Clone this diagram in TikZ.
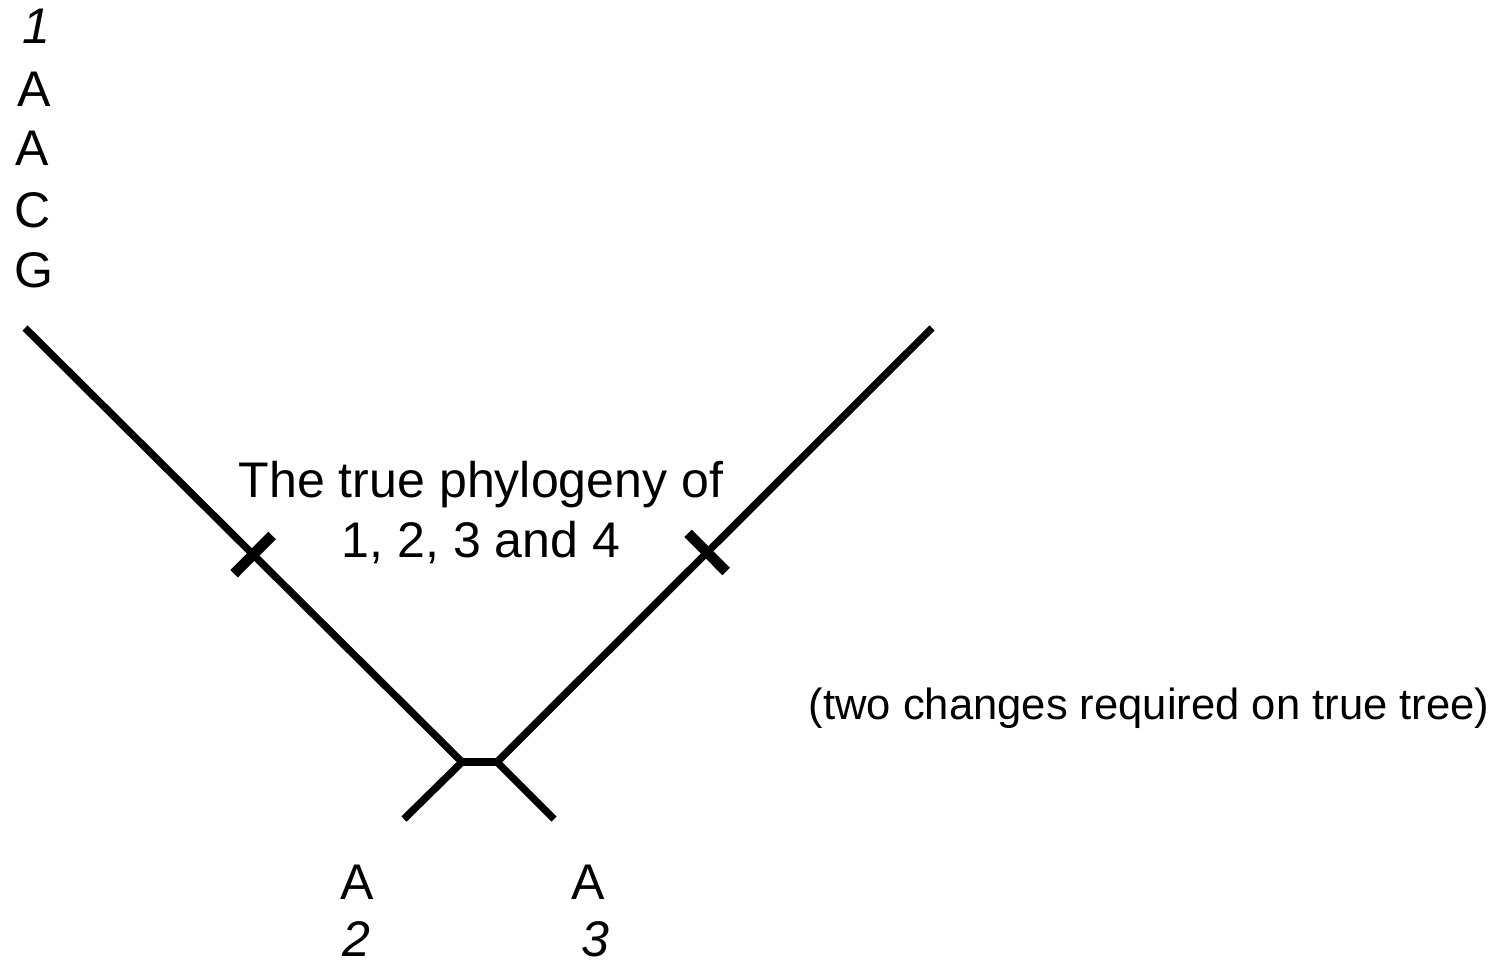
\documentclass[tikz,border=0pt]{standalone}
\usepackage{fontspec}
\setmainfont{Liberation Sans}
\usetikzlibrary{calc}

\begin{document}
\begin{tikzpicture}[x=0.02cm, y=-0.02cm,
  every node/.style={font=\fontsize{28.5}{34.1}\selectfont, inner sep=0pt},
  branch/.style={line width=4.2pt},
  internode/.style={line width=4.8pt},
  change/.style={line width=6pt}]
  \useasboundingbox (0,0) rectangle (1500,961);

  % tips and internal nodes
  \coordinate (tipOne) at (25,328);
  \coordinate (tipFour) at (932,328);
  \coordinate (tipTwo) at (404,819);
  \coordinate (tipThree) at (554,819);
  \coordinate (joinL) at (462,762);
  \coordinate (joinR) at (497,762);

  \draw[branch] (tipOne) -- (joinL) -- (tipTwo);
  \draw[branch] (tipFour) -- (joinR) -- (tipThree);
  \draw[internode] (joinL) -- (joinR);

  % character changes
  \coordinate (chgL) at ($(tipOne)!0.522!(joinL)$);
  \coordinate (chgR) at ($(tipFour)!0.517!(joinR)$);
  \draw[change] ($(chgL)!0.54cm!90:(joinL)$) -- ($(chgL)!0.54cm!-90:(joinL)$);
  \draw[change] ($(chgR)!0.54cm!90:(joinR)$) -- ($(chgR)!0.54cm!-90:(joinR)$);

  % sequence of taxon 1
  \node[anchor=base] (numOne) at (36,43) {\itshape 1};
  \node[anchor=base] (seqA1) at (34,106) {A};
  \node[anchor=base] (seqA2) at (32,165) {A};
  \node[anchor=base] (seqC) at (33,227) {C};
  \node[anchor=base] (seqG) at (34,287) {G};

  % taxa 2 and 3
  \node[anchor=base] (baseTwo) at (357,899) {A};
  \node[anchor=base] (numTwo) at (356,956) {\itshape 2};
  \node[anchor=base] (baseThree) at (588,899) {A};
  \node[anchor=base] (numThree) at (595,956) {\itshape 3};

  \node[anchor=base, align=center] (title) at (481,557) {The true phylogeny of\\1, 2, 3 and 4};
  \node[anchor=base, font=\fontsize{24.8}{30}\selectfont] (note) at (1149,719) {(two changes required on true tree)};
\end{tikzpicture}
\end{document}
